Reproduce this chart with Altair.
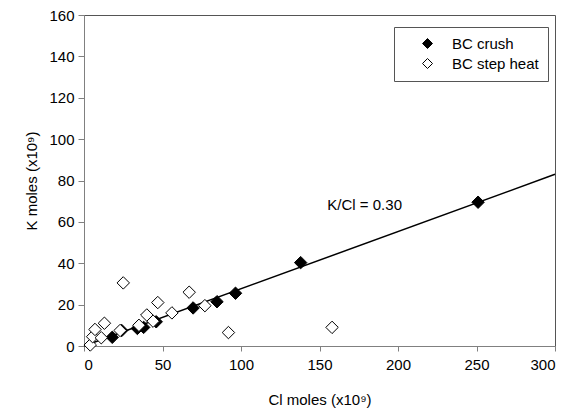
import altair as alt
import pandas as pd

# Data
crush_x = [18, 24, 34, 38, 46, 69.5, 84.7, 96.5, 138, 251]
crush_y = [4.2, 7.5, 8.5, 9, 11.7, 18.4, 21.4, 25.5, 40.3, 69.5]
step_x = [4, 5.5, 7, 11, 13, 23, 25, 35, 40, 44, 47, 56, 67, 77, 92, 158]
step_y = [0.5, 4.5, 8, 4, 11, 7.5, 30.5, 10, 15, 12, 21, 16, 26, 19.5, 6.5, 9]
line_x = [0, 300]
line_y = [0, 83]
series_names = ["BC crush", "BC step heat"]
note_text = "K/Cl = 0.30"
note_x = [155]
note_y = [68]

rows = [{"cl": x, "k": y, "series": series_names[0]} for x, y in zip(crush_x, crush_y)]
rows += [{"cl": x, "k": y, "series": series_names[1]} for x, y in zip(step_x, step_y)]
pts = pd.DataFrame(rows)
fit = pd.DataFrame({"cl": line_x, "k": line_y})
note = pd.DataFrame({"cl": note_x, "k": note_y, "t": [note_text]})

FONT = "Liberation Sans"
xs = alt.Scale(domain=[0, 300], nice=False, zero=True)
ys = alt.Scale(domain=[0, 160], nice=False, zero=True)

xaxis = alt.Axis(title="Cl moles (x10⁹)", values=[0, 50, 100, 150, 200, 250, 300],
                 grid=False, tickSize=5, labelPadding=6, titlePadding=20)
yaxis = alt.Axis(title="K moles (x10⁹)", values=[0, 20, 40, 60, 80, 100, 120, 140, 160],
                 grid=False, tickSize=6, labelPadding=4, titlePadding=9)

line = alt.Chart(fit).mark_line(color="black", strokeWidth=1.5).encode(
    x=alt.X("cl:Q", scale=xs, axis=xaxis),
    y=alt.Y("k:Q", scale=ys, axis=yaxis),
)

points = alt.Chart(pts).mark_point(
    shape="diamond", filled=True, size=155, stroke="black", strokeWidth=1, opacity=1
).encode(
    x=alt.X("cl:Q", scale=xs, axis=xaxis),
    y=alt.Y("k:Q", scale=ys, axis=yaxis),
    fill=alt.Fill("series:N", scale=alt.Scale(domain=series_names, range=["black", "white"]),
                  legend=alt.Legend(title=None, orient="none", legendX=310, legendY=12,
                                    symbolType="diamond", symbolSize=100,
                                    symbolStrokeColor="black", symbolStrokeWidth=1,
                                    symbolOpacity=1, symbolOffset=17,
                                    labelFont=FONT, labelFontSize=15, labelColor="black",
                                    labelOffset=17, rowPadding=4,
                                    padding=9, strokeColor="#555555", fillColor="white")),
)

text = alt.Chart(note).mark_text(align="left", baseline="middle", font=FONT,
                                  fontSize=15, color="black").encode(
    x=alt.X("cl:Q", scale=xs), y=alt.Y("k:Q", scale=ys), text="t:N")

chart = alt.layer(line, points, text).properties(
    width=471, height=331,
    autosize=alt.AutoSizeParams(type="none"),
    padding={"left": 84, "top": 15, "right": 31, "bottom": 66},
).configure(background="white").configure_view(
    stroke="#555555", strokeWidth=1
).configure_axis(
    domainColor="#808080", tickColor="#808080", labelFont=FONT, labelFontSize=15,
    labelColor="black", titleFont=FONT, titleFontSize=15, titleColor="black",
    titleFontWeight="normal"
)

chart.save("out.html", embed_options={"renderer": "svg", "actions": False})
